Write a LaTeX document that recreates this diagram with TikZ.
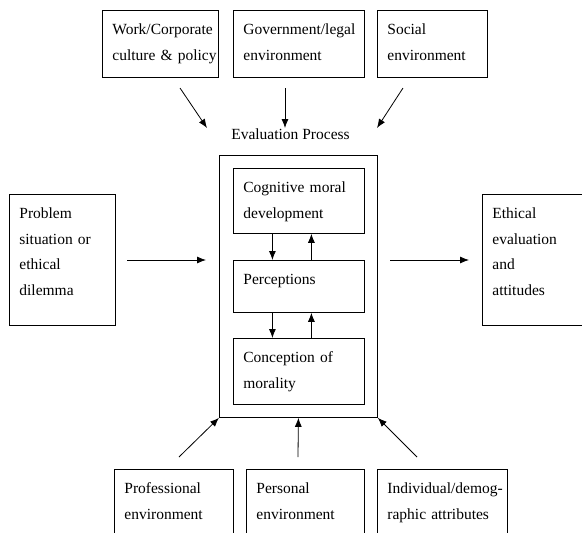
\documentclass[tikz,border=0pt]{standalone}
\usepackage{fontspec}
\setmainfont{Liberation Serif}
\usetikzlibrary{arrows.meta, positioning}
\hyphenpenalty=10000
\exhyphenpenalty=10000
\hbadness=10000
\hfuzz=30pt
\tikzstyle{box} = [rectangle, draw=black, line width=0.8pt, anchor=north west, align=left, inner xsep=10pt, inner ysep=0pt, text height=24.5pt, font=\fontsize{15.5}{25.5}\selectfont]
\tikzstyle{frame} = [rectangle, draw=black, line width=0.8pt, anchor=north west, inner sep=0pt]
\tikzstyle{arrow} = [line width=0.8pt, -{Latex[length=9pt,width=7pt]}]

\begin{document}
\begin{tikzpicture}[x=1pt, y=-1pt]
	\clip (0,0) rectangle (582,533);

	% Influences from above
	\node[box, text width=96pt, text depth=42.5pt] (work) at (102,10) {Work/Corporate\\culture~\&~policy};
	\node[box, text width=111pt, text depth=42.5pt] (gov) at (233,10) {Government/legal\\environment};
	\node[box, text width=90pt, text depth=42.5pt] (social) at (377,10) {Social\\environment};

	% Evaluation process with its three parts
	\node[frame, minimum width=158pt, minimum height=262pt] (evaluation) at (219,155) {};
	\node[anchor=base, inner sep=0pt, font=\fontsize{15.5}{18}\selectfont] (evallabel) at (290.5,139) {Evaluation Process};
	\node[box, text width=111pt, text depth=40.5pt] (cognitive) at (233,168) {Cognitive moral\\development};
	\node[box, text width=111pt, text depth=27.5pt] (perceptions) at (233,260) {Perceptions};
	\node[box, text width=111pt, text depth=41.5pt] (conception) at (233,338) {Conception of\\morality};

	% Input and outcome
	\node[box, text width=86pt, text depth=106.5pt] (problem) at (9,194) {Problem\\situation or\\ethical\\dilemma};
	\node[box, text width=100pt, text depth=106.5pt] (ethical) at (482,194) {Ethical\\evaluation\\and\\attitudes};

	% Influences from below
	\node[box, text width=99pt, text depth=65.5pt] (professional) at (114,469) {Professional\\environment};
	\node[box, text width=98pt, text depth=65.5pt] (personal) at (246,469) {Personal\\environment};
	\node[box, text width=110pt, text depth=65.5pt] (individual) at (377,469) {\mbox{Individual/demog-}\\raphic attributes};

	% Free ends of the arrows
	\coordinate (workfrom) at (180,88);
	\coordinate (workto) at (207,128);
	\coordinate (govfrom) at (285,88);
	\coordinate (govto) at (285,128);
	\coordinate (socialfrom) at (403,88);
	\coordinate (socialto) at (377,128);
	\coordinate (problemfrom) at (127,260);
	\coordinate (problemto) at (206,260);
	\coordinate (ethicalfrom) at (390,260);
	\coordinate (ethicalto) at (469,260);
	\coordinate (professionalfrom) at (179,457);
	\coordinate (personalfrom) at (298,457);
	\coordinate (individualfrom) at (417,457);

	\draw[arrow] (workfrom) -- (workto);
	\draw[arrow] (govfrom) -- (govto);
	\draw[arrow] (socialfrom) -- (socialto);
	\draw[arrow] (problemfrom) -- (problemto);
	\draw[arrow] (ethicalfrom) -- (ethicalto);
	\draw[arrow] (professionalfrom) -- (evaluation.south west);
	\draw[arrow] (personalfrom) -- (evaluation.south);
	\draw[arrow] (individualfrom) -- (evaluation.south east);

	% Arrows between the parts
	\draw[arrow] ([xshift=-26.5pt]cognitive.south) -- ([xshift=-26.5pt]perceptions.north);
	\draw[arrow] ([xshift=12.5pt]perceptions.north) -- ([xshift=12.5pt]cognitive.south);
	\draw[arrow] ([xshift=-26.5pt]perceptions.south) -- ([xshift=-26.5pt]conception.north);
	\draw[arrow] ([xshift=12.5pt]conception.north) -- ([xshift=12.5pt]perceptions.south);
\end{tikzpicture}
\end{document}
